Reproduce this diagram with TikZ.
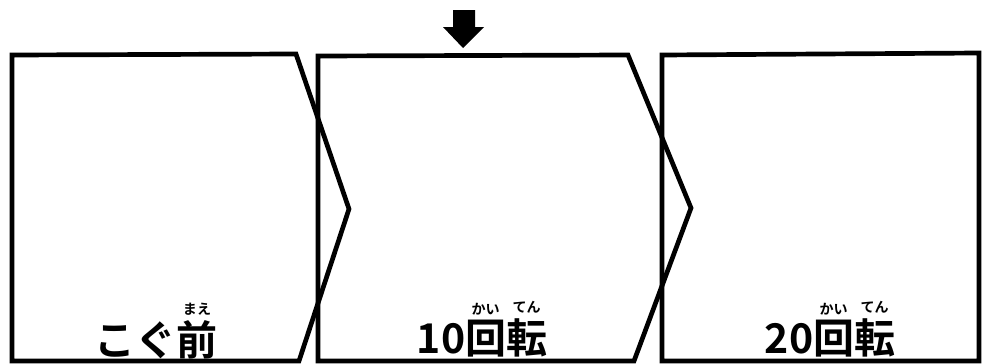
\documentclass[tikz,border=0pt]{standalone}
\usepackage{fontspec}
\setmainfont{Noto Sans CJK JP}[BoldFont={Noto Sans CJK JP Bold}]
\usetikzlibrary{positioning}

% kanji with its reading set small above it
\newcommand{\furi}[2]{\begin{tabular}[b]{@{}c@{}}{\fontsize{12}{12}\selectfont #2}\\[-6pt]#1\end{tabular}}

\tikzset{
  panel/.style = {line width=4pt, line join=miter},
  step label/.style = {anchor=base, inner sep=0pt, font=\bfseries\fontsize{35}{35}\selectfont},
  pointer/.style = {fill=black, draw=none}
}

\begin{document}
\begin{tikzpicture}[x=0.03cm, y=-0.03cm]
     \useasboundingbox (0,0) rectangle (982,363);

     % three panels, each pointing to the next
     \draw[panel] (12,55) -- (296,54) -- (349,209) -- (299,361) -- (12,361) -- cycle;
     \draw[panel] (318,56) -- (628,55) -- (691,208) -- (634,361) -- (318,361) -- cycle;
     \draw[panel] (662,55) -- (979,53) -- (979,361) -- (662,361) -- cycle;

     % arrow over the middle panel
     \fill[pointer] (453,10) -- (475,10) -- (475,27) -- (484,27) -- (463,48)
                    -- (443,27) -- (453,27) -- cycle;

     \node[step label] (before) at (156,355) {こぐ\furi{前}{まえ}};
     \node[step label] (ten)    at (482,353) {10\furi{回}{かい}\furi{転}{てん}};
     \node[step label] (twenty) at (830,353) {20\furi{回}{かい}\furi{転}{てん}};
\end{tikzpicture}
\end{document}
